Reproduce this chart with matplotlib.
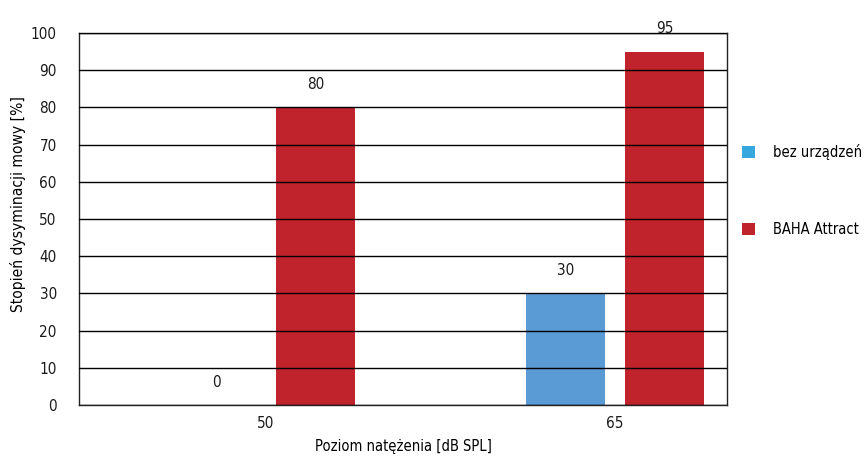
import matplotlib
matplotlib.use("Agg")
import matplotlib.pyplot as plt
from matplotlib.patches import Patch
from matplotlib import font_manager

# Data
categories = ["50", "65"]
series_names = ["bez urządzeń", "BAHA Attract"]
bez_urzadzen = [0, 30]
baha_attract = [80, 95]
y_ticks = [0, 10, 20, 30, 40, 50, 60, 70, 80, 90, 100]

bar_colors = ["#5B9BD5", "#C0232C"]
legend_colors = ["#35A8E0", "#C0232C"]

# Prefer a condensed sans face when one is available
condensed = {f.name for f in font_manager.fontManager.ttflist
             if str(f.stretch) in ("condensed", "semi-condensed", "extra-condensed")}
if "DejaVu Sans" in condensed:
    plt.rcParams["font.family"] = ["DejaVu Sans"]
    plt.rcParams["font.stretch"] = "condensed"
    fs, fs_small = 11, 10.5
else:
    plt.rcParams["font.family"] = ["Lato", "DejaVu Sans"]
    fs, fs_small = 11.5, 10.3

fig = plt.figure(figsize=(8.65, 4.58), dpi=100)
ax = fig.add_axes([79 / 865, 53 / 458, 648 / 865, 372 / 458])

width = 0.2264
offset = 0.1418
x = list(range(len(categories)))

for vals, sign, color in [(bez_urzadzen, -1, bar_colors[0]), (baha_attract, 1, bar_colors[1])]:
    pos = [xi + sign * offset for xi in x]
    bars = ax.bar(pos, vals, width=width, color=color, zorder=2)
    for b, v in zip(bars, vals):
        ax.annotate(f"{v}", (b.get_x() + b.get_width() / 2, v),
                    xytext=(0, 11), textcoords="offset points",
                    ha="center", va="bottom", fontsize=fs, color="#1a1a1a")

ax.set_xlim(-0.5358, 1.3209)
ax.set_ylim(0, 100)
ax.set_yticks(y_ticks)
ax.set_xticks(x)
ax.set_xticklabels(categories)
ax.tick_params(axis="both", length=0, labelsize=fs, colors="#1a1a1a")
ax.tick_params(axis="y", pad=16)
ax.tick_params(axis="x", pad=8)
ax.yaxis.grid(True, color="black", linewidth=1.0, zorder=3)
ax.set_axisbelow(False)
for s in ax.spines.values():
    s.set_color("#222222")
    s.set_linewidth(1.0)

ax.set_ylabel("Stopień dysyminacji mowy [%]", fontsize=11.2)
ax.yaxis.set_label_coords(-0.082, 0.54)
ax.set_xlabel("Poziom natężenia [dB SPL]", fontsize=fs_small, labelpad=6)

handles = [Patch(facecolor=c, edgecolor="none") for c in legend_colors]
fig.legend(handles, series_names, loc="upper left",
           bbox_to_anchor=(742 / 865, 1 - 144 / 458), frameon=False,
           borderpad=0, borderaxespad=0, handlelength=0.9, handleheight=0.9,
           handletextpad=1.25, labelspacing=4.25, fontsize=fs_small)

fig.savefig("out.png", dpi=100)
